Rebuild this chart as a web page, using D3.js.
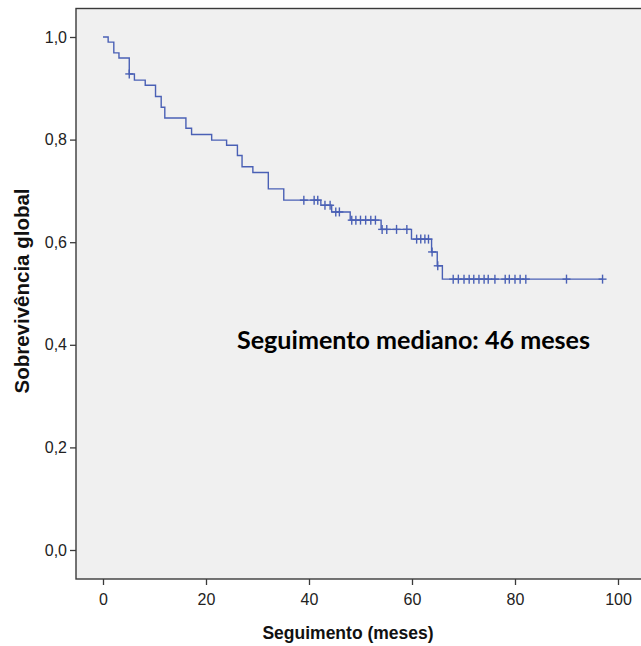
<!DOCTYPE html>
<html>
<head>
<meta charset="utf-8">
<script src="https://cdn.jsdelivr.net/npm/d3@7"></script>
<style>
  body { margin: 0; background: #fff; }
  svg { display: block; }
</style>
</head>
<body>
<div id="chart"></div>
<script>
// Kaplan-Meier steps (time in months, survival after the drop)
var stepTimes = [0, 1.0, 2.1, 3.1, 5.1, 6.1, 8.2, 10.2, 11.3, 12.0, 16.1, 17.2, 21.1, 24.0, 26.1, 27.0,
                 29.1, 32.1, 35.1, 42.3, 44.4, 48.0, 54.0, 59.9, 63.8, 64.9, 65.9];
var stepSurv  = [1.0, 0.990, 0.969, 0.959, 0.928, 0.916, 0.906, 0.884, 0.863, 0.842, 0.822, 0.810, 0.799, 0.789, 0.769, 0.747,
                 0.736, 0.704, 0.682, 0.672, 0.659, 0.643, 0.625, 0.606, 0.581, 0.554, 0.528];
// censored observations
var censorTimes = [5.1, 39.0, 41.0, 41.7, 43.1, 44.1, 45.2, 45.9, 48.3, 49.1, 50.0, 51.0, 52.0, 52.9,
                   54.2, 55.1, 57.0, 59.0, 60.9, 61.7, 62.5, 63.2, 63.9, 65.0,
                   68.0, 69.0, 70.1, 71.1, 72.0, 73.0, 74.0, 74.8, 76.1, 78.1, 78.9, 80.0, 81.0, 82.1, 90.0, 97.0];
var lastTime = 97.0;

var xTicks = [0, 20, 40, 60, 80, 100];
var yTicks = [0, 0.2, 0.4, 0.6, 0.8, 1.0];
var yTickLabels = ["0,0", "0,2", "0,4", "0,6", "0,8", "1,0"];
var xTitle = "Seguimento (meses)";
var yTitle = "Sobrevivência global";
var note = "Seguimento mediano: 46 meses";

var svgWidth = 641, svgHeight = 646;
var plot = { left: 76, top: 8.5, right: 660, bottom: 579 };

var svg = d3.select("#chart").append("svg")
    .attr("width", svgWidth)
    .attr("height", svgHeight);

var x = d3.scaleLinear().domain([0, 100]).range([103, 618]);
var y = d3.scaleLinear().domain([0, 1]).range([550, 37]);

// fundo do gráfico
svg.append("rect")
    .attr("x", plot.left)
    .attr("y", plot.top)
    .attr("width", plot.right - plot.left)
    .attr("height", plot.bottom - plot.top)
    .attr("fill", "#f0f0f0")
    .attr("stroke", "#3a3a3a")
    .attr("stroke-width", 1.4);

// eixo Y
var yAxis = d3.axisLeft(y)
    .tickValues(yTicks)
    .tickSize(6)
    .tickPadding(3)
    .tickFormat(function (d, i) { return yTickLabels[i]; });

var gy = svg.append("g")
    .attr("transform", "translate(" + plot.left + ",0)")
    .call(yAxis);
gy.select(".domain").remove();

// eixo X
var xAxis = d3.axisBottom(x)
    .tickValues(xTicks)
    .tickSize(6)
    .tickPadding(9);

var gx = svg.append("g")
    .attr("transform", "translate(0," + plot.bottom + ")")
    .call(xAxis);
gx.select(".domain").remove();

svg.selectAll(".tick line").attr("stroke", "#3a3a3a").attr("stroke-width", 1.3);
svg.selectAll(".tick text")
    .attr("fill", "#222")
    .style("font-family", "'Liberation Sans Narrow', 'Liberation Sans', Arial, sans-serif")
    .style("font-size", "16px");

// curva de sobrevivência (degraus)
var pts = stepTimes.map(function (t, i) { return [t, stepSurv[i]]; });
pts.push([lastTime, stepSurv[stepSurv.length - 1]]);

var line = d3.line()
    .x(function (d) { return x(d[0]); })
    .y(function (d) { return y(d[1]); })
    .curve(d3.curveStepAfter);

svg.append("path")
    .datum(pts)
    .attr("d", line)
    .attr("fill", "none")
    .attr("stroke", "#4a60b5")
    .attr("stroke-width", 1.4);

// censuras
function survAt(t) {
    var s = stepSurv[0];
    for (var i = 0; i < stepTimes.length; i++) {
        if (stepTimes[i] <= t) s = stepSurv[i];
    }
    return s;
}

var cross = svg.append("g")
    .selectAll("g")
    .data(censorTimes)
    .enter()
    .append("g")
    .attr("transform", function (d) { return "translate(" + x(d) + "," + y(survAt(d)) + ")"; });

cross.append("line")
    .attr("x1", 0).attr("x2", 0)
    .attr("y1", -4.5).attr("y2", 4.5)
    .attr("stroke", "#4a60b5")
    .attr("stroke-width", 1.4);

cross.append("line")
    .attr("x1", -4).attr("x2", 4)
    .attr("y1", 0).attr("y2", 0)
    .attr("stroke", "#4a60b5")
    .attr("stroke-width", 1.4);

// títulos dos eixos
svg.append("text")
    .text(xTitle)
    .attr("x", 348)
    .attr("y", 639)
    .attr("text-anchor", "middle")
    .attr("fill", "#111")
    .style("font-family", "'Liberation Sans', Arial, sans-serif")
    .style("font-weight", "bold")
    .style("font-size", "17.5px");

svg.append("text")
    .text(yTitle)
    .attr("transform", "translate(29,291) rotate(-90)")
    .attr("text-anchor", "middle")
    .attr("fill", "#111")
    .style("font-family", "'Liberation Sans', Arial, sans-serif")
    .style("font-weight", "bold")
    .style("font-size", "20.5px");

// anotação
svg.append("text")
    .text(note)
    .attr("x", 237)
    .attr("y", 349)
    .attr("textLength", 353)
    .attr("lengthAdjust", "spacingAndGlyphs")
    .attr("fill", "#000")
    .style("font-family", "Lato, 'Open Sans', sans-serif")
    .style("font-weight", "bold")
    .style("font-size", "24px");
</script>
</body>
</html>
